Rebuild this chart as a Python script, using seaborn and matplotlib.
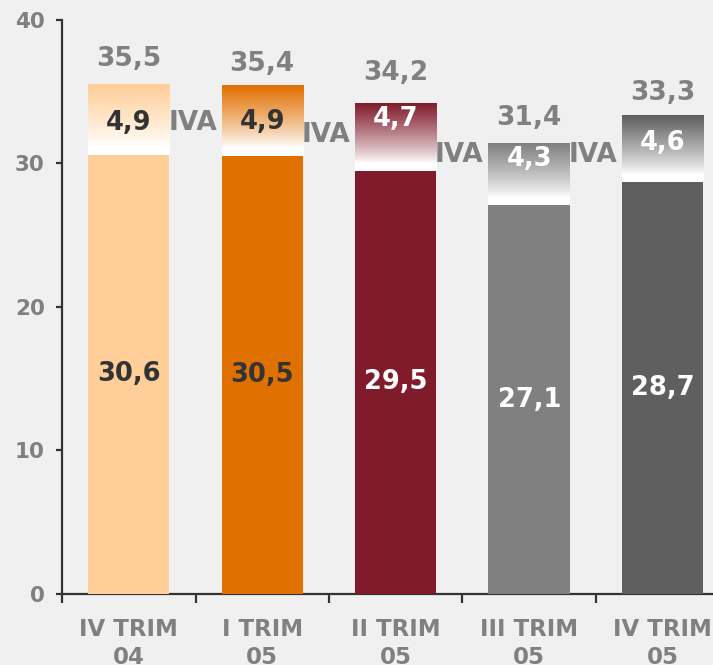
import numpy as np
import seaborn as sns
import matplotlib.pyplot as plt
from matplotlib.colors import to_rgb

# datos
trimestres = ["IV TRIM\n04", "I TRIM\n05", "II TRIM\n05", "III TRIM\n05", "IV TRIM\n05"]
sin_iva = [30.6, 30.5, 29.5, 27.1, 28.7]
iva = [4.9, 4.9, 4.7, 4.3, 4.6]
total = [35.5, 35.4, 34.2, 31.4, 33.3]
colores = ["#FFCE99", "#E07000", "#801B2B", "#808080", "#5F5F5F"]
color_txt = ["#333333", "#333333", "white", "white", "white"]

# posiciones de las etiquetas (a ojo)
y_iva_txt = [32.8, 32.9, 33.1, 30.3, 31.4]
y_iva_lbl = [32.8, 32.0, 30.6, 30.6]
y_total = [37.3, 36.9, 36.3, 33.2, 34.9]

gris = "#808080"
fondo = "#F0F0F0"

sns.set_style("white")
plt.rcParams["font.family"] = ["DejaVu Sans"]

fig = plt.figure(figsize=(7.13, 6.65), dpi=100, facecolor=fondo)
ax = fig.add_axes([0.087, 0.1068, 0.936, 0.8632])
ax.set_facecolor(fondo)

# barras totales (debajo del degradado)
sns.barplot(x=trimestres, y=total, hue=trimestres, palette=colores,
            legend=False, width=0.61, saturation=1, linewidth=0,
            edgecolor="none", ax=ax)
barras_tot = list(ax.patches)
for p in barras_tot:
    p.set_zorder(2)

# degradado para el IVA (blanco abajo -> color arriba)
n = 200
t = np.linspace(0, 1, n)
for i, p in enumerate(barras_tot):
    c = np.array(to_rgb(colores[i]))
    f = np.clip((t - 0.12) / 0.88, 0, 1) ** 0.85
    img = (1 - f[:, None]) * np.ones(3) + f[:, None] * c
    ax.imshow(img[:, None, :], origin="lower", aspect="auto",
              extent=(p.get_x(), p.get_x() + p.get_width(), sin_iva[i], total[i]),
              zorder=3)

# barras sin IVA
sns.barplot(x=trimestres, y=sin_iva, hue=trimestres, palette=colores,
            legend=False, width=0.61, saturation=1, linewidth=0,
            edgecolor="none", ax=ax)
for p in ax.patches:
    if p not in barras_tot:
        p.set_zorder(4)

ax.set_xlim(-0.5, 4.5)
ax.set_ylim(0, 40)

fmt = lambda v: f"{v:.1f}".replace(".", ",")
for i in range(5):
    ax.text(i, sin_iva[i] / 2, fmt(sin_iva[i]), ha="center", va="center",
            fontsize=18.5, fontweight="bold", color=color_txt[i], zorder=6)
    ax.text(i, y_iva_txt[i], fmt(iva[i]), ha="center", va="center",
            fontsize=18.5, fontweight="bold", color=color_txt[i], zorder=6)
    ax.text(i, y_total[i], fmt(total[i]), ha="center", va="center",
            fontsize=19, fontweight="bold", color=gris, zorder=6)
for i in range(4):
    ax.text(i + 0.295, y_iva_lbl[i], "IVA", ha="left", va="center",
            fontsize=19, fontweight="bold", color=gris, zorder=6)

# ejes
for s in ["top", "right"]:
    ax.spines[s].set_visible(False)
for s in ["left", "bottom"]:
    ax.spines[s].set_color("#333333")
    ax.spines[s].set_linewidth(1.6)

ax.set_yticks([0, 10, 20, 30, 40])
ax.tick_params(axis="y", left=True, length=4.5, width=1.6, color="#333333",
               pad=8, labelsize=15.5, labelcolor=gris)
for lb in ax.get_yticklabels():
    lb.set_fontweight("bold")

ax.set_xticks(range(5))
ax.set_xticklabels(trimestres, fontsize=16.5, fontweight="bold", color=gris,
                   linespacing=1.3)
ax.set_xticks(np.arange(-0.5, 5, 1), minor=True)
ax.tick_params(axis="x", which="major", length=0, pad=17)
ax.tick_params(axis="x", which="minor", bottom=True, length=6.5, width=1.6,
               color="#333333")
ax.set_xlabel("")
ax.set_ylabel("")

fig.savefig("out.png", dpi=100, facecolor=fondo)
